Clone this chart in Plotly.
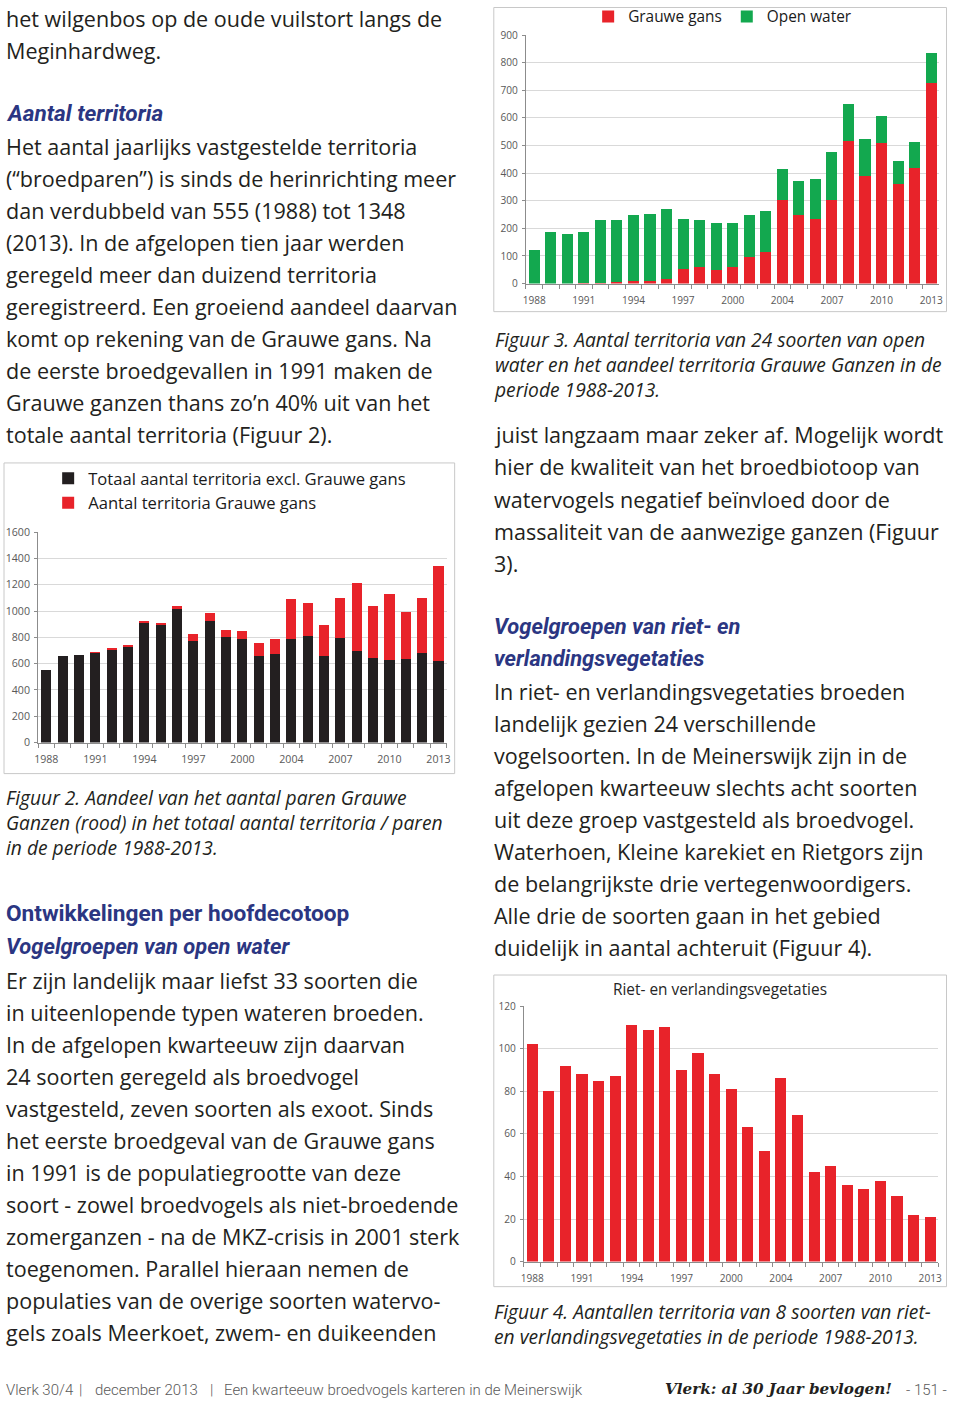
import plotly.graph_objects as go

# ---------------- data ----------------
years = ["1988", "1989", "1990", "1991", "1992", "1993", "1994", "1995", "1996", "1997",
         "1998", "1999", "2000", "2001", "2003", "2004", "2005", "2006", "2007", "2008",
         "2009", "2010", "2011", "2012", "2013"]
year_labels = ["1988", "1991", "1994", "1997", "2000", "2004", "2007", "2010", "2013"]

# Figuur 2
fig2_excl = [555, 660, 665, 680, 710, 730, 910, 895, 1020, 775, 925, 805, 790, 660, 670,
             790, 810, 655, 795, 695, 645, 625, 635, 680, 620]
fig2_gans = [0, 0, 0, 2, 3, 5, 8, 11, 15, 51, 59, 50, 60, 97, 116, 304, 250, 235, 303, 516,
             390, 508, 361, 419, 725]

# Figuur 3
fig3_gans = [0, 0, 0, 2, 3, 5, 8, 11, 15, 51, 59, 50, 60, 97, 116, 304, 250, 235, 303, 516,
             390, 508, 361, 419, 725]
fig3_open = [120, 187, 180, 183, 227, 225, 242, 242, 256, 184, 173, 170, 160, 150, 146, 110,
             121, 145, 173, 136, 132, 100, 84, 95, 110]

# Figuur 4
fig4_riet = [102, 80, 92, 88, 85, 87, 111, 109, 110, 90, 98, 88, 81, 63, 52, 86, 69, 42, 45,
             36, 34, 38, 31, 22, 21]

# ---------------- text ----------------
left_top = ["het wilgenbos op de oude vuilstort langs de", "Meginhardweg."]
left_body1 = ["Het aantal jaarlijks vastgestelde territoria",
              "(\u201cbroedparen\u201d) is sinds de herinrichting meer",
              "dan verdubbeld van 555 (1988) tot 1348",
              "(2013). In de afgelopen tien jaar werden",
              "geregeld meer dan duizend territoria",
              "geregistreerd. Een groeiend aandeel daarvan",
              "komt op rekening van de Grauwe gans. Na",
              "de eerste broedgevallen in 1991 maken de",
              "Grauwe ganzen thans zo\u2019n 40% uit van het",
              "totale aantal territoria (Figuur 2)."]
cap2 = ["Figuur 2. Aandeel van het aantal paren Grauwe",
        "Ganzen (rood) in het totaal aantal territoria / paren",
        "in de periode 1988-2013."]
left_body2 = ["Er zijn landelijk maar liefst 33 soorten die",
              "in uiteenlopende typen wateren broeden.",
              "In de afgelopen kwarteeuw zijn daarvan",
              "24 soorten geregeld als broedvogel",
              "vastgesteld, zeven soorten als exoot. Sinds",
              "het eerste broedgeval van de Grauwe gans",
              "in 1991 is de populatiegrootte van deze",
              "soort - zowel broedvogels als niet-broedende",
              "zomerganzen - na de MKZ-crisis in 2001 sterk",
              "toegenomen. Parallel hieraan nemen de",
              "populaties van de overige soorten watervo-",
              "gels zoals Meerkoet, zwem- en duikeenden"]
cap3 = ["Figuur 3. Aantal territoria van 24 soorten van open",
        "water en het aandeel territoria Grauwe Ganzen in de",
        "periode 1988-2013."]
right_body1 = ["juist langzaam maar zeker af. Mogelijk wordt",
               "hier de kwaliteit van het broedbiotoop van",
               "watervogels negatief be\u00efnvloed door de",
               "massaliteit van de aanwezige ganzen (Figuur",
               "3)."]
right_head = ["Vogelgroepen van riet- en", "verlandingsvegetaties"]
right_body2 = ["In riet- en verlandingsvegetaties broeden",
               "landelijk gezien 24 verschillende",
               "vogelsoorten. In de Meinerswijk zijn in de",
               "afgelopen kwarteeuw slechts acht soorten",
               "uit deze groep vastgesteld als broedvogel.",
               "Waterhoen, Kleine karekiet en Rietgors zijn",
               "de belangrijkste drie vertegenwoordigers.",
               "Alle drie de soorten gaan in het gebied",
               "duidelijk in aantal achteruit (Figuur 4)."]
cap4 = ["Figuur 4. Aantallen territoria van 8 soorten van riet-",
        "en verlandingsvegetaties in de periode 1988-2013."]

# ---------------- styling ----------------
W, H = 960, 1409
# The photographed page comes out slightly reduced and offset; positions below are
# given in the reference picture's pixels and converted here.
S, OX, OY = 0.988, 6.0, 8.0
BODY_FONT = "Open Sans"
BODY_COLOR = "#231f20"
HEAD_COLOR = "#2b3682"
RED = "#e8232a"
GREEN = "#13a84f"
BLACK = "#231f20"
GRID = "#d9d9d9"
AXIS = "#8c8c8c"
TICK_COLOR = "#595959"


def fs(size):
    return round(size / S, 2)


def px_x(x):
    return max(0.0, (x - OX) / S) / W


def px_y(y):
    return 1 - max(0.5, (y - OY) / S) / H


BODY_SIZE = fs(21.3)
CAP_SIZE = fs(19.0)

tick_text = [y if y in year_labels else "" for y in years]

fig = go.Figure()

# Figuur 2
fig.add_trace(go.Bar(x=years, y=fig2_excl, name="Totaal aantal territoria excl. Grauwe gans",
                     marker=dict(color=BLACK, line=dict(width=0)), width=0.62,
                     xaxis="x", yaxis="y", legend="legend"))
fig.add_trace(go.Bar(x=years, y=fig2_gans, name="Aantal territoria Grauwe gans",
                     marker=dict(color=RED, line=dict(width=0)), width=0.62,
                     xaxis="x", yaxis="y", legend="legend"))
# Figuur 3
fig.add_trace(go.Bar(x=years, y=fig3_gans, name="Grauwe gans",
                     marker=dict(color=RED, line=dict(width=0)), width=0.67,
                     xaxis="x2", yaxis="y2", legend="legend2"))
fig.add_trace(go.Bar(x=years, y=fig3_open, name="Open water",
                     marker=dict(color=GREEN, line=dict(width=0)), width=0.67,
                     xaxis="x2", yaxis="y2", legend="legend2"))
# Figuur 4
fig.add_trace(go.Bar(x=years, y=fig4_riet, name="Riet- en verlandingsvegetaties",
                     marker=dict(color=RED, line=dict(width=0)), width=0.67,
                     xaxis="x3", yaxis="y3", showlegend=False))


def xaxis_style(domain, anchor, size):
    return dict(domain=domain, anchor=anchor, type="category", categoryorder="array",
                categoryarray=years, tickmode="array", tickvals=years, ticktext=tick_text,
                tickson="boundaries", ticks="outside", ticklen=4, tickcolor=AXIS,
                showline=True, linecolor=AXIS, linewidth=1, showgrid=False,
                ticklabelstandoff=7,
                tickfont=dict(family="Open Sans", size=fs(size), color=TICK_COLOR),
                tickangle=0, fixedrange=True)


def yaxis_style(domain, anchor, rng, dtick, size):
    return dict(domain=domain, anchor=anchor, range=rng, dtick=dtick, tick0=0,
                showgrid=True, gridcolor=GRID, gridwidth=1, zeroline=False,
                showline=True, linecolor=AXIS, linewidth=1, ticks="outside", ticklen=3,
                tickcolor=AXIS, ticklabelstandoff=2,
                tickfont=dict(family="Open Sans", size=fs(size), color=TICK_COLOR),
                fixedrange=True)


annotations = []


def add_lines(lines, x, y0, step, size=BODY_SIZE, color=BODY_COLOR, family=BODY_FONT,
              style="normal", weight="normal"):
    for i, t in enumerate(lines):
        annotations.append(dict(
            text=t, x=px_x(x), y=px_y(y0 + i * step), xref="paper", yref="paper",
            xanchor="left", yanchor="middle", showarrow=False,
            font=dict(family=family, size=size, color=color, style=style, weight=weight)))


def add_block(lines, x, y_center, size=CAP_SIZE, style="italic"):
    annotations.append(dict(
        text="<br>".join(lines), x=px_x(x), y=px_y(y_center), xref="paper", yref="paper",
        xanchor="left", yanchor="middle", align="left", showarrow=False,
        font=dict(family=BODY_FONT, size=size, color=BODY_COLOR, style=style)))


# left column
add_lines(left_top, 1, 19, 32)
add_lines(["Aantal territoria"], 1, 114, 32, size=fs(22.3), color=HEAD_COLOR,
          family="Roboto", style="italic", weight="bold")
add_lines(left_body1, 1, 147, 32)
add_block(cap2, 1, 822)
add_lines(["Ontwikkelingen per hoofdecotoop"], 1, 913, 32, size=fs(22.4), color=HEAD_COLOR,
          family="Roboto", weight="bold")
add_lines(["Vogelgroepen van open water"], 1, 946, 32, size=fs(21.6), color=HEAD_COLOR,
          family="Roboto", style="italic", weight="bold")
add_lines(left_body2, 1, 979, 32)

# right column
add_block(cap3, 492, 365)
add_lines(right_body1, 492, 435, 32)
add_lines(right_head, 492, 626, 32, size=fs(21.6), color=HEAD_COLOR, family="Roboto",
          style="italic", weight="bold")
add_lines(right_body2, 492, 691, 32)
add_block(cap4, 492, 1322)

# chart title of figuur 4
annotations.append(dict(text="Riet- en verlandingsvegetaties", x=px_x(719), y=px_y(988),
                        xref="paper", yref="paper", xanchor="center", yanchor="middle",
                        showarrow=False,
                        font=dict(family="Open Sans", size=fs(15.2), color="#262626")))

# footer
FOOT = "#5a5a5a"
for txt, x in [("Vlerk 30/4", 1), ("|", 79), ("december 2013", 95), ("|", 209),
               ("Een kwarteeuw broedvogels karteren in de Meinerswijk", 223)]:
    annotations.append(dict(text=txt, x=px_x(x), y=px_y(1388), xref="paper", yref="paper",
                            xanchor="left", yanchor="middle", showarrow=False,
                            font=dict(family="Roboto", size=fs(14.8), color=FOOT,
                                      weight=300)))
annotations.append(dict(text="Vlerk: al 30 Jaar bevlogen!", x=px_x(663), y=px_y(1387),
                        xref="paper", yref="paper", xanchor="left", yanchor="middle",
                        showarrow=False,
                        font=dict(family="DejaVu Serif", size=fs(15), color="#231f20",
                                  style="italic", weight="bold")))
annotations.append(dict(text="- 151 -", x=px_x(903), y=px_y(1388), xref="paper",
                        yref="paper", xanchor="left", yanchor="middle", showarrow=False,
                        font=dict(family="Roboto", size=fs(14.8), color=FOOT, weight=300)))

# chart frames
frames = [(2, 463, 455, 773), (494, 1, 945, 312), (494, 974, 945, 1285)]
shapes = [dict(type="rect", xref="paper", yref="paper", x0=px_x(a), x1=px_x(c),
               y0=px_y(d), y1=px_y(b), line=dict(color="#c8c8c8", width=1),
               fillcolor="rgba(0,0,0,0)", layer="below") for a, b, c, d in frames]

fig.update_layout(
    width=W, height=H, margin=dict(l=0, r=0, t=0, b=0),
    paper_bgcolor="white", plot_bgcolor="white",
    barmode="stack", showlegend=True,
    xaxis=xaxis_style([px_x(40), px_x(447)], "y", 10.5),
    yaxis=yaxis_style([px_y(742), px_y(532)], "x", [0, 1600], 200, 10.5),
    xaxis2=xaxis_style([px_x(526), px_x(938)], "y2", 10),
    yaxis2=yaxis_style([px_y(284), px_y(36)], "x2", [0, 900], 100, 10),
    xaxis3=xaxis_style([px_x(524), px_x(937)], "y3", 10),
    yaxis3=yaxis_style([px_y(1260), px_y(1005)], "x3", [0, 120], 20, 10),
    legend=dict(x=px_x(50), y=px_y(461), xanchor="left", yanchor="top",
                orientation="v", traceorder="normal", bgcolor="rgba(0,0,0,0)",
                font=dict(family="Open Sans", size=fs(16.4), color="#1a1a1a"),
                itemwidth=30, tracegroupgap=0),
    legend2=dict(x=px_x(588), y=px_y(17), xanchor="left", yanchor="middle",
                 orientation="h", traceorder="normal", bgcolor="rgba(0,0,0,0)",
                 font=dict(family="Open Sans", size=fs(15.2), color="#1a1a1a"),
                 itemwidth=30),
    annotations=annotations, shapes=shapes,
)

page_css = (
    "var s=document.createElement('style');"
    "s.textContent='html,body{margin:0!important;padding:0!important;overflow:hidden;}"
    "body>div{margin:0;padding:0;line-height:0;}';"
    "document.head.appendChild(s);"
)

fig.write_html("out.html", config={"displayModeBar": False}, post_script=page_css)
